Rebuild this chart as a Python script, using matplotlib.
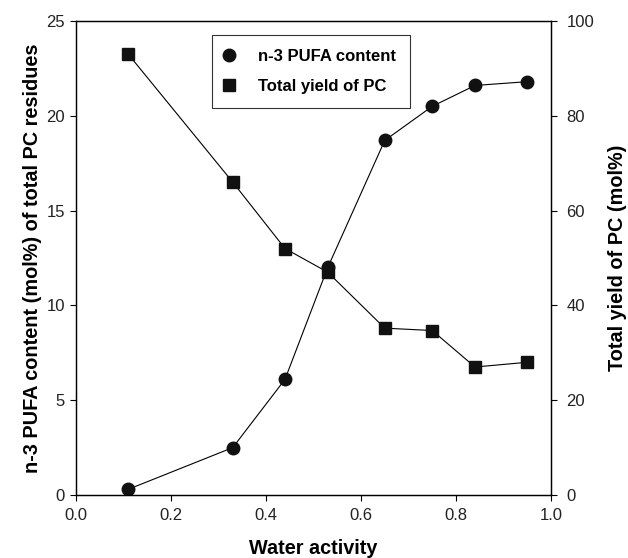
import matplotlib
matplotlib.use("Agg")
import matplotlib.pyplot as plt
from matplotlib.lines import Line2D

plt.rcParams['font.family'] = ['Liberation Sans', 'DejaVu Sans']

water_activity = [0.11, 0.33, 0.44, 0.53, 0.65, 0.75, 0.84, 0.95]
pufa_content = [0.3, 2.5, 6.1, 12.0, 18.7, 20.5, 21.6, 21.8]
pc_yield = [93.0, 66.0, 52.0, 47.0, 35.2, 34.7, 27.0, 28.0]

x_ticks = [0.0, 0.2, 0.4, 0.6, 0.8, 1.0]
left_ticks = [0, 5, 10, 15, 20, 25]
right_ticks = [0, 20, 40, 60, 80, 100]

fig = plt.figure(figsize=(6.28, 5.58), dpi=100)
ax = fig.add_axes([76/628, 63/558, 475/628, 474/558])
ax2 = ax.twinx()

mc = '#111111'
ax.plot(water_activity, pufa_content, '-', color='black', lw=0.8,
        marker='o', ms=9, mfc=mc, mec=mc, zorder=3)
ax2.plot(water_activity, pc_yield, '-', color='black', lw=0.8,
         marker='s', ms=8.5, mfc=mc, mec=mc, zorder=3)

ax.set_xlim(0, 1.0)
ax.set_ylim(0, 25)
ax2.set_ylim(0, 100)
ax.set_xticks(x_ticks)
ax.set_xticklabels([f"{v:.1f}" for v in x_ticks])
ax.set_yticks(left_ticks)
ax2.set_yticks(right_ticks)

for a in (ax, ax2):
    a.tick_params(direction='out', length=4, width=0.8, labelsize=12,
                  labelcolor='#222222')
    for s in a.spines.values():
        s.set_linewidth(0.9)
ax.tick_params(axis='y', pad=4)
ax.tick_params(axis='x', pad=5)
ax2.tick_params(axis='y', pad=7)

ax.set_xlabel('Water activity', fontsize=14.3, fontweight='bold', labelpad=12)
ax.set_ylabel('n-3 PUFA content (mol%) of total PC residues', fontsize=14.3,
              fontweight='bold', labelpad=3)
ax2.set_ylabel('Total yield of PC (mol%)', fontsize=14.3, fontweight='bold',
               labelpad=10)

handles = [Line2D([], [], ls='none', marker='o', ms=9, mfc=mc, mec=mc),
           Line2D([], [], ls='none', marker='s', ms=8.5, mfc=mc, mec=mc)]
leg = ax2.legend(handles, ['n-3 PUFA content', 'Total yield of PC'],
                 loc='upper left', bbox_to_anchor=((212-76)/475, (496-35)/475),
                 borderaxespad=0,
                 prop={'weight': 'bold', 'size': 12}, fancybox=False,
                 edgecolor='#333333', framealpha=1, borderpad=0.85,
                 handletextpad=1.56, labelspacing=0.9, handlelength=0.36)
leg.get_frame().set_linewidth(0.8)

fig.savefig('out.png', dpi=100)
